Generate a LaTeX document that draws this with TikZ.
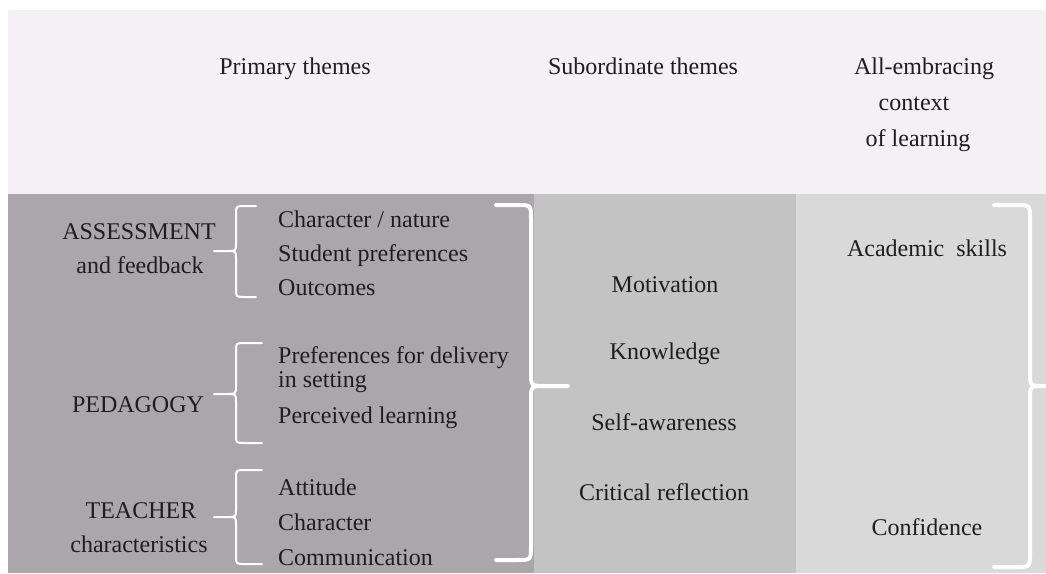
\documentclass[tikz,border=0pt]{standalone}
\usepackage{fontspec}
\setmainfont{Liberation Serif}
\definecolor{bandc}{HTML}{F3F1F3}
\definecolor{leftc}{HTML}{A9A7A9}
\definecolor{midc}{HTML}{C4C3C4}
\definecolor{rightc}{HTML}{DAD9DA}
\definecolor{txtc}{HTML}{1E1E1E}
\tikzset{
  lbl/.style={inner sep=0pt, anchor=base, text=txtc, font=\fontsize{24}{28}\selectfont},
  item/.style={lbl, anchor=base west},
  smallbrace/.style={draw=white, line width=2pt, line join=round, line cap=round},
  bigbrace/.style={draw=white, line width=4pt, line join=round, line cap=round}
}
% style, x-arm, x-vertical, x-tip, y-top, y-tip, y-bottom, horizontal offset, vertical offset
\newcommand{\thmbrace}[9]{%
  \draw[#1] (#2,#5) -- ({#3+#8},#5) .. controls (#3,#5) .. (#3,{#5+#9})
    -- (#3,{#6-#9}) .. controls (#3,#6) .. ({#3-#8},#6) -- (#4,#6)
    (#4,#6) -- ({#3-#8},#6) .. controls (#3,#6) .. (#3,{#6+#9})
    -- (#3,{#7-#9}) .. controls (#3,#7) .. ({#3+#8},#7) -- (#2,#7);}
\begin{document}
\begin{tikzpicture}[x=1pt,y=-1pt]
\clip (0,0) rectangle (1046,573);
\fill[white] (0,0) rectangle (1046,573);
% panels
\fill[bandc] (8,10) rectangle (1046,194);
\fill[leftc] (8,194) rectangle (534,573);
\fill[midc] (534,194) rectangle (796,573);
\fill[rightc] (796,194) rectangle (1046,573);
% headers
\node[lbl] (hprim) at (295,74) {Primary themes};
\node[lbl] (hsub) at (643,74) {Subordinate themes};
\node[lbl] (hall1) at (924,74) {All-embracing};
\node[lbl] (hall2) at (914,110) {context};
\node[lbl] (hall3) at (918,146) {of learning};
% primary theme labels
\node[lbl] (assess) at (139,239) {ASSESSMENT};
\node[lbl] (assess2) at (140,273) {and feedback};
\node[lbl] (ped) at (138,412) {PEDAGOGY};
\node[lbl] (teach) at (141,518) {TEACHER};
\node[lbl] (teach2) at (139,552) {characteristics};
% items
\node[item] (i1) at (278,227) {Character / nature};
\node[item] (i2) at (278,261) {Student preferences};
\node[item] (i3) at (278,295) {Outcomes};
\node[item] (i4) at (278,363) {Preferences for delivery};
\node[item] (i5) at (278,387) {in setting};
\node[item] (i6) at (278,423) {Perceived learning};
\node[item] (i7) at (278,495) {Attitude};
\node[item] (i8) at (278,530) {Character};
\node[item] (i9) at (278,565) {Communication};
% subordinate themes
\node[lbl] (s1) at (665,292) {Motivation};
\node[lbl] (s2) at (665,359) {Knowledge};
\node[lbl] (s3) at (664,430) {Self-awareness};
\node[lbl] (s4) at (664,500) {Critical reflection};
% context
\node[lbl] (c1) at (927,256) {Academic\ \ skills};
\node[lbl] (c2) at (927,535) {Confidence};
% small braces
\thmbrace{smallbrace}{256}{236}{214}{206}{251}{297}{9}{8}
\thmbrace{smallbrace}{262}{236}{214}{343}{394}{443}{9}{8}
\thmbrace{smallbrace}{262}{236}{214}{470}{517}{564}{9}{8}
% big braces
\thmbrace{bigbrace}{496}{531}{568}{205}{386}{560}{-14}{14}
\thmbrace{bigbrace}{994}{1030}{1070}{205}{386}{567}{-14}{14}
\end{tikzpicture}
\end{document}
